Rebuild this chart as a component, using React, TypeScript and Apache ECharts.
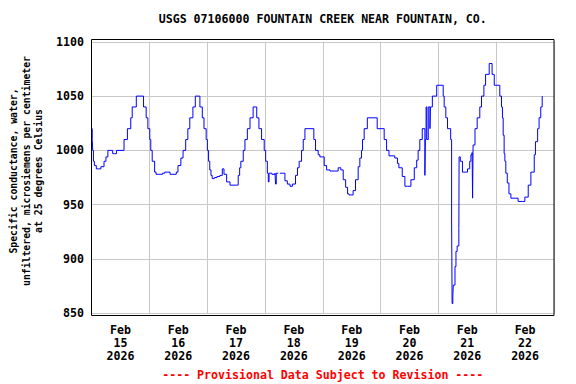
import React, { useEffect, useRef } from "react";
import * as echarts from "echarts";

const titleText = "USGS 07106000 FOUNTAIN CREEK NEAR FOUNTAIN, CO.";
const yAxisNameLines = [
  "Specific conductance, water,",
  "unfiltered, microsiemens per centimeter",
  "at 25 degrees Celsius",
];
const footerText = "---- Provisional Data Subject to Revision ----";
const dayLabels = ["Feb\n15\n2026", "Feb\n16\n2026", "Feb\n17\n2026", "Feb\n18\n2026", "Feb\n19\n2026", "Feb\n20\n2026", "Feb\n21\n2026", "Feb\n22\n2026"];
const yTicks = { min: 850, max: 1100, step: 50 };

// hours since 2026-02-15 00:00
const hours = [
  0, 0.3, 0.5, 0.8, 1.2, 2.0, 2.8, 3.9, 5.2, 6.0, 6.8, 8.0, 8.8, 9.6, 10.4, 13.5, 14.9, 16.3, 16.9, 18.6,
  21.6, 22.7, 23.4, 24.2, 24.6, 25.2, 26.2, 26.8, 28.4, 29.5, 30.4, 31.7, 32.6, 33.8, 35.2, 35.9, 37.1, 38.0, 39.1, 40.0,
  40.8, 42.1, 43.1, 45.0, 46.0, 46.7, 47.6, 48.1, 48.6, 49.1, 49.6, 50.1, 51.0, 52.1, 53.3, 54.3, 55.0, 56.1, 57.5, 60.3,
  60.9, 61.5, 62.0, 63.0, 63.7, 64.7, 65.8, 67.1, 68.6, 69.5, 70.6, 71.7, 72.3, 73.0, 73.4, 73.7, 74.9, 76.2, 76.4, 76.7,
  77.5, 78.2, 79.2, 80.3, 81.3, 82.4, 83.4, 84.7, 85.5, 86.2, 87.2, 87.9, 88.6, 92.3, 93.0, 94.1, 94.8, 95.8, 96.6, 97.6,
  99.0, 101.1, 102.4, 103.5, 104.5, 105.5, 106.3, 106.9, 107.7, 108.6, 109.6, 110.7, 111.4, 112.1, 112.5, 113.2, 114.5, 118.6, 121.5, 122.5,
  123.5, 125.2, 125.9, 127.0, 127.6, 129.0, 130.1, 131.2, 132.6, 134.0, 135.0, 135.6, 136.3, 137.3, 138.4, 138.6, 138.9, 139.2, 139.8, 140.5,
  140.7, 141.5, 143.3, 146.0, 146.4, 147.1, 147.8, 149.1, 149.5, 149.7, 150.0, 150.2, 150.9, 151.3, 151.8, 152.5, 152.6, 153.1, 154.0, 155.7,
  156.1, 157.0, 157.5, 158.0, 158.2, 158.4, 159.2, 160.1, 161.2, 161.9, 162.9, 163.6, 165.1, 166.3, 167.2, 169.5, 170.2, 170.6, 170.9, 171.3,
  171.6, 172.0, 172.6, 173.3, 174.1, 175.8, 177.1, 178.8, 179.9, 181.3, 182.4, 183.8, 184.3, 185.2, 185.8, 186.5, 187.1,
];
const values: (number | null)[] = [
  1020, 1010, 1000, 990, 986, 983, 983, 985, 990, 994, 1000, 1000, 997, 997, 1000, 1010, 1020, 1030, 1040, 1050,
  1040, 1030, 1020, 1010, 1000, 990, 980, 978, 978, 979, 980, 980, 978, 978, 980, 986, 993, 1000, 1010, 1020,
  1030, 1040, 1050, 1040, 1030, 1020, 1010, 1000, 990, 982, 977, 974, 975, 976, 977, 983, 978, 971, 968, 968,
  977, 984, 990, 1000, 1010, 1020, 1030, 1040, 1030, 1020, 1010, 1000, 990, 979, 971, 979, 978, 979, 969, 979,
  null, 979, 979, 972, 969, 967, 969, 977, 984, 990, 1000, 1010, 1020, 1010, 1000, 996, 994, 994, 986, 982,
  981, 981, 984, 982, 973, 966, 960, 959, 959, 963, 973, 985, 993, 1000, 1010, 1020, 1030, 1020, 1010, 1000,
  995, 995, 993, 988, 984, 976, 967, 967, 973, 984, 991, 1000, 1010, 1020, 977, 1010, 1040, 1010, 1040, 1020,
  1040, 1050, 1060, 1050, 1040, 1030, 1020, 1010, 934, 859, 866, 876, 893, 907, 912, 928, 994, 990, 980, 980,
  983, 990, 996, 998, 956, 1005, 1020, 1030, 1040, 1050, 1060, 1070, 1080, 1070, 1060, 1050, 1040, 1030, 1014, 997,
  990, 979, 970, 960, 956, 956, 953, 953, 957, 968, 980, 996, 1008, 1020, 1030, 1040, 1050,
];

const FONT = "'DejaVu Sans Mono', monospace";

export default function App() {
  const ref = useRef<HTMLDivElement>(null);
  useEffect(() => {
    if (!ref.current) return;
    const chart = echarts.init(ref.current, null, { renderer: "svg" });
    const gridLeft = 91.5;
    const gridRight = 554;
    const plotCenter = (gridLeft + gridRight) / 2;
    chart.setOption({
      animation: false,
      backgroundColor: "#ffffff",
      grid: { left: gridLeft, right: 576 - gridRight, top: 41.8, bottom: 384 - 313.3, containLabel: false },
      xAxis: [
        {
          type: "category",
          data: dayLabels,
          boundaryGap: true,
          axisLine: { show: false },
          axisTick: { show: false },
          splitLine: { show: true, lineStyle: { color: "#c8c8c8", width: 1 } },
          axisLabel: {
            interval: 0,
            margin: 10,
            color: "#000",
            fontFamily: FONT,
            fontWeight: "bold",
            fontSize: 11.6,
            lineHeight: 13,
          },
        },
        { type: "value", min: 0, max: 192, show: false },
      ],
      yAxis: {
        type: "value",
        min: yTicks.min,
        max: yTicks.max,
        interval: yTicks.step,
        axisLine: { show: false },
        axisTick: { show: false },
        splitLine: { show: true, lineStyle: { color: "#c8c8c8", width: 1 } },
        axisLabel: {
          margin: 7.5,
          color: "#000",
          fontFamily: FONT,
          fontWeight: "bold",
          fontSize: 11.6,
          formatter: (v: number) => String(v),
        },
      },
      series: [
        {
          type: "line",
          xAxisIndex: 1,
          step: "end",
          showSymbol: false,
          connectNulls: false,
          lineStyle: { color: "#0000ff", width: 1 },
          data: hours.map((h, i) => [h, values[i]]),
        },
      ],
      graphic: [
        {
          type: "rect",
          shape: { x: 91.5, y: 39.5, width: 462.5, height: 276 },
          style: { fill: "none", stroke: "#000", lineWidth: 1 },
          z: 100,
        },
        {
          type: "text",
          x: plotCenter,
          y: 19,
          style: {
            text: titleText,
            fill: "#000",
            font: `bold 11.6px ${FONT}`,
            textAlign: "center",
            textVerticalAlign: "middle",
          },
        },
        {
          type: "text",
          x: 26,
          y: 171,
          rotation: Math.PI / 2,
          style: {
            text: yAxisNameLines.join("\n"),
            fill: "#000",
            font: `bold 9.8px ${FONT}`,
            lineHeight: 12.5,
            textAlign: "center",
            textVerticalAlign: "middle",
          },
        },
        {
          type: "text",
          x: plotCenter,
          y: 375,
          style: {
            text: footerText,
            fill: "#ff0000",
            font: `bold 11.6px ${FONT}`,
            textAlign: "center",
            textVerticalAlign: "middle",
          },
        },
      ],
    });
    return () => chart.dispose();
  }, []);
  return <div ref={ref} style={{ position: "fixed", left: 0, top: 0, width: 576, height: 384 }} />;
}
